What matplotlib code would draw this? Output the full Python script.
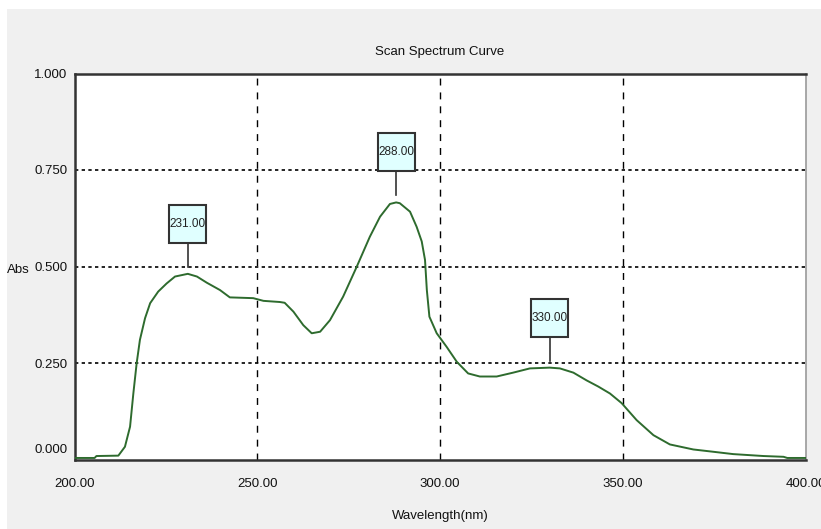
import matplotlib
matplotlib.use("Agg")
import matplotlib.pyplot as plt
import matplotlib.transforms as mtransforms
from matplotlib.patches import Rectangle
import numpy as np

# scan data: wavelength (nm) and absorbance
wavelength = [200, 205.5, 206, 212, 213.8, 215.2, 216.1, 217.0, 217.9, 219.3,
              220.7, 222.9, 225.2, 227.5, 231.0, 233.5, 236.2, 239.8, 242.5,
              248.9, 251.7, 256.2, 257.5, 259.9, 262.6, 264.9, 267.2, 269.9,
              273.5, 277.2, 280.8, 283.6, 286.3, 288.0, 289.0, 291.8, 293.6,
              295.0, 295.9, 296.4, 297.1, 299.1, 301.8, 304.6, 307.7, 310.9,
              315.5, 320.0, 324.6, 330.0, 332.8, 336.5, 340.1, 343.3, 346.5,
              349.7, 353.8, 358.4, 362.9, 369.3, 374.8, 380.2, 388.5, 394.0,
              395.0, 400]
absorbance = [0.004, 0.004, 0.009, 0.010, 0.033, 0.085, 0.171, 0.249, 0.310,
              0.366, 0.405, 0.435, 0.456, 0.474, 0.481, 0.474, 0.458, 0.439,
              0.420, 0.418, 0.411, 0.408, 0.406, 0.383, 0.348, 0.327, 0.331,
              0.361, 0.422, 0.499, 0.577, 0.629, 0.662, 0.666, 0.664, 0.642,
              0.603, 0.565, 0.517, 0.439, 0.370, 0.327, 0.292, 0.253, 0.223,
              0.215, 0.215, 0.225, 0.236, 0.238, 0.236, 0.225, 0.205, 0.189,
              0.171, 0.146, 0.102, 0.063, 0.039, 0.026, 0.020, 0.014, 0.009,
              0.007, 0.004, 0.004]
peaks = [231.0, 288.0, 330.0]

x_ticks = [200, 250, 300, 350, 400]
x_ticklabels = ["200.00", "250.00", "300.00", "350.00", "400.00"]
y_ticks = [0.0, 0.25, 0.5, 0.75, 1.0]
y_ticklabels = ["0.000", "0.250", "0.500", "0.750", "1.000"]

plt.rcParams['font.family'] = ["Liberation Sans", "DejaVu Sans"]
FS = 9.5

fig = plt.figure(figsize=(8.21, 5.29), dpi=100, facecolor="white")
# grey window background
fig.patches.append(Rectangle((7 / 821, 0), 1, (529 - 9) / 529, transform=fig.transFigure,
                             facecolor="#f0f0f0", edgecolor="none", zorder=-10))

ax = fig.add_axes([74.5 / 821, 1 - 459.5 / 529, 731 / 821, 386 / 529])
ax.set_facecolor("white")
ax.plot(wavelength, absorbance, color="#2e6b2e", lw=1.4, zorder=3)

ax.set_xlim(200, 400)
ax.set_ylim(0, 1)
ax.set_xticks(x_ticks)
ax.set_xticklabels(x_ticklabels, fontsize=FS, color="#111111")
ax.set_yticks(y_ticks)
ax.set_yticklabels(y_ticklabels, fontsize=FS, color="#111111")
ax.tick_params(length=0)
ax.tick_params(axis="x", pad=13)
ax.tick_params(axis="y", pad=5)
# lift the 0.000 label off the bottom edge
lbl0 = ax.get_yticklabels()[0]
lbl0.set_transform(lbl0.get_transform() + mtransforms.ScaledTranslation(0, 11 / 100, fig.dpi_scale_trans))

# grid: dashed verticals, dotted horizontals
for xv in [250, 300, 350]:
    ax.axvline(xv, color="black", lw=1, ls=(0, (5, 5)), zorder=1)
for yv in [0.25, 0.5, 0.75]:
    ax.axhline(yv, color="black", lw=1.2, ls=(0, (2, 2)), zorder=1)

for side in ["top", "bottom", "left"]:
    ax.spines[side].set_color("#333333")
    ax.spines[side].set_linewidth(1.8)
ax.spines["right"].set_color("#9a9a9a")
ax.spines["right"].set_linewidth(1.2)

ax.text(0.5, 1.056, "Scan Spectrum Curve", transform=ax.transAxes, ha="center",
        va="center", fontsize=FS, color="#111111")
ax.set_xlabel("Wavelength(nm)", fontsize=FS, color="#111111")
ax.xaxis.set_label_coords(0.5, -0.131)
ax.set_ylabel("Abs", fontsize=FS, rotation=0, va="center", ha="center", color="#111111")
ax.yaxis.set_label_coords(-0.077, 0.491)

# peak markers: stem and labelled box, sized in pixels above each peak
for pk in peaks:
    val = np.interp(pk, wavelength, absorbance)
    tr = mtransforms.Affine2D() + mtransforms.ScaledTranslation(pk, val, ax.transData)
    ax.plot([0, 0], [7, 31], color="#333333", lw=1.2, transform=tr, zorder=4)
    ax.add_patch(Rectangle((-18.5, 31), 37, 38, transform=tr, facecolor="#e0ffff",
                           edgecolor="#333333", lw=1.5, zorder=5, clip_on=False))
    ax.text(0, 50, f"{pk:.2f}", transform=tr, ha="center", va="center",
            fontsize=8.5, color="#222222", zorder=6, clip_on=False)

fig.savefig("out.png", dpi=100, facecolor=fig.get_facecolor())
